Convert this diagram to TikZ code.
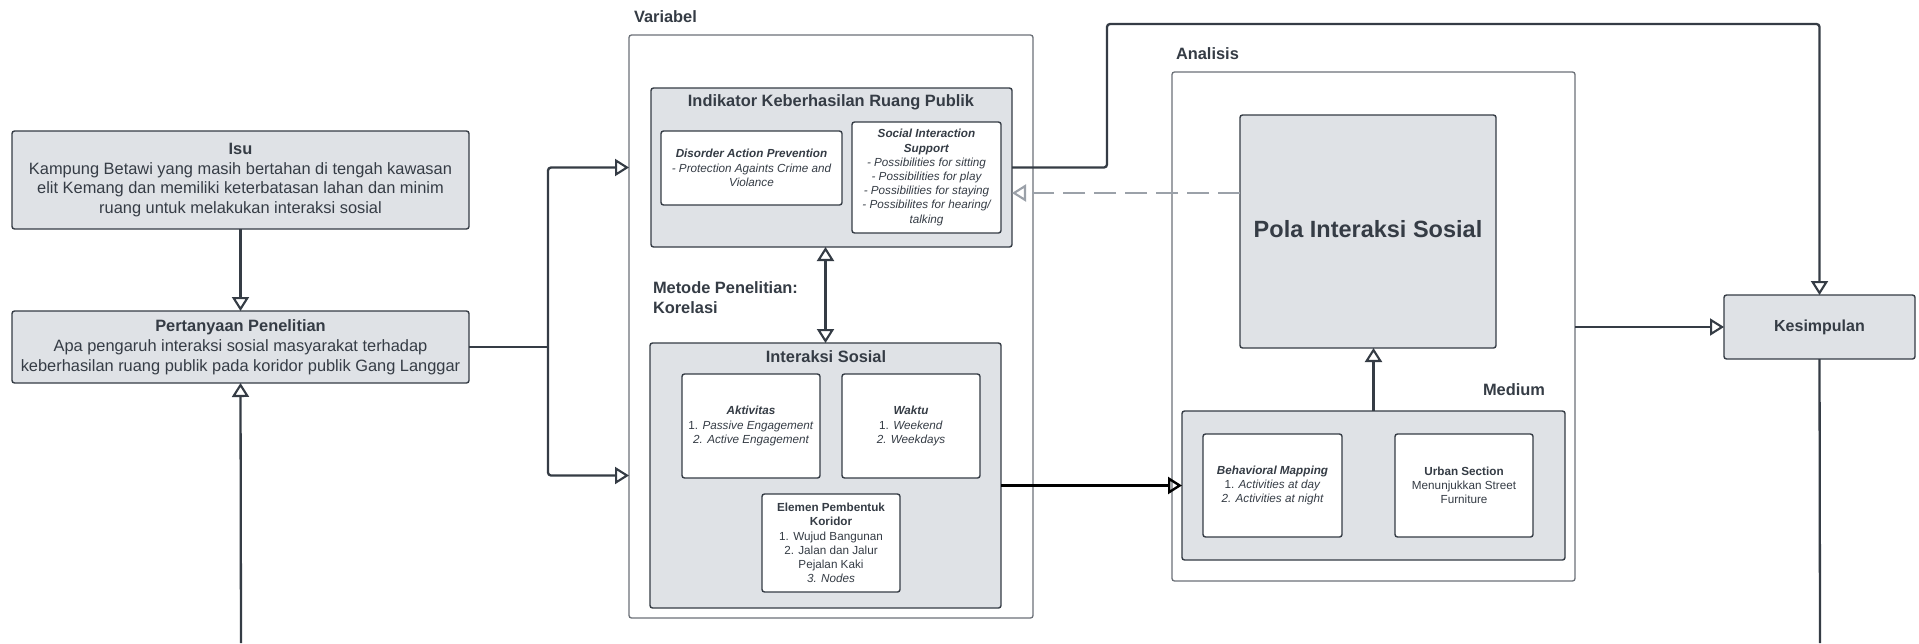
\documentclass[tikz,border=0pt]{standalone}
\usepackage{fontspec}
\setmainfont{Liberation Sans}
\usetikzlibrary{arrows.meta,calc}
\definecolor{ink}{HTML}{353C45}
\definecolor{boxfill}{HTML}{DFE2E6}
\definecolor{frame}{HTML}{6C7178}
\definecolor{dashgray}{HTML}{9BA1A9}
\begin{document}
\begin{tikzpicture}[x=1pt,y=-1pt,
  every node/.style={inner sep=0pt, outer sep=0pt, text=ink, align=center},
  graybox/.style={draw=ink, fill=boxfill, line width=1.4pt, rounded corners=2.5pt, anchor=north west},
  whitebox/.style={draw=ink, fill=white, line width=1.4pt, rounded corners=2.5pt, anchor=north west},
  container/.style={draw=frame, fill=white, line width=1.3pt, rounded corners=2.5pt, anchor=north west},
  big/.style={font=\fontsize{16.4}{19.8}\selectfont},
  head/.style={font=\fontsize{16.4}{20}\selectfont\bfseries},
  small/.style={font=\fontsize{11.7}{14.2}\selectfont},
  conn/.style={draw=ink, line width=2.3pt},
  tip/.style={Triangle[open, length=14pt, width=17pt, line width=2.1pt]},
  arr/.style={conn, -{Triangle[open, length=14pt, width=17pt, line width=2.1pt]}},
  dblarr/.style={conn, {Triangle[open, length=14pt, width=17pt, line width=2.1pt]}-{Triangle[open, length=14pt, width=17pt, line width=2.1pt]}},
  arrblack/.style={draw=black, line width=2.6pt, -{Triangle[open, length=14pt, width=17pt, line width=2.4pt]}},
  dasharr/.style={draw=dashgray, line width=2.2pt, dash pattern=on 22pt off 9pt, -{Triangle[open, length=14pt, width=17pt, line width=2.1pt]}}
]
\fill[white] (0,0) rectangle (1919,643);
\useasboundingbox (0,0) rectangle (1919,643);

% left column
\node[graybox, big, minimum width=457pt, minimum height=98pt] (isu) at (12,131)
  {\textbf{Isu}\\Kampung Betawi yang masih bertahan di tengah kawasan\\elit Kemang dan memiliki keterbatasan lahan dan minim\\ruang untuk melakukan interaksi sosial};
\node[graybox, big, minimum width=457pt, minimum height=72pt] (pert) at (12,311)
  {\textbf{Pertanyaan Penelitian}\\Apa pengaruh interaksi sosial masyarakat terhadap\\keberhasilan ruang publik pada koridor publik Gang Langgar};

% Variabel
\node[head, anchor=west] (varlbl) at (634,17) {Variabel};
\node[container, minimum width=404pt, minimum height=583pt] (var) at (629,35) {};
\node[graybox, minimum width=361pt, minimum height=159pt] (ind) at (651,88) {};
\node[head] (indt) at (831,102) {Indikator Keberhasilan Ruang Publik};
\node[whitebox, small, minimum width=181pt, minimum height=74pt] (dis) at (661,131)
  {\textbf{\itshape Disorder Action Prevention}\\\itshape - Protection Againts Crime and\\\itshape Violance};
\node[whitebox, small, minimum width=149pt, minimum height=111pt] (soc) at (852,122)
  {\textbf{\itshape Social Interaction}\\\textbf{\itshape Support}\\\itshape - Possibilities for sitting\\\itshape - Possibilities for play\\\itshape - Possibilities for staying\\\itshape - Possibilites for hearing/\\\itshape talking};
\node[head, anchor=west, align=left] (metode) at (653,298) {Metode Penelitian:\\Korelasi};
\node[graybox, minimum width=351pt, minimum height=265pt] (inter) at (650,343) {};
\node[head] (intert) at (826,357) {Interaksi Sosial};
\node[whitebox, small, minimum width=138pt, minimum height=104pt] (akt) at (682,374)
  {\textbf{\itshape Aktivitas}\\1. \textit{Passive Engagement}\\\itshape 2. Active Engagement};
\node[whitebox, small, minimum width=138pt, minimum height=104pt] (wak) at (842,374)
  {\textbf{\itshape Waktu}\\1. \textit{Weekend}\\\itshape 2. Weekdays};
\node[whitebox, small, minimum width=138pt, minimum height=98pt] (ele) at (762,494)
  {\textbf{Elemen Pembentuk}\\\textbf{Koridor}\\1. Wujud Bangunan\\2. Jalan dan Jalur\\Pejalan Kaki\\\itshape 3. Nodes};

% Analisis
\node[head, anchor=west] (analbl) at (1176,54) {Analisis};
\node[container, minimum width=403pt, minimum height=509pt] (ana) at (1172,72) {};
\node[graybox, font=\fontsize{23.5}{28}\selectfont\bfseries, minimum width=256pt, minimum height=233pt] (pola) at (1240,115) {\raisebox{6pt}{Pola Interaksi Sosial}};
\node[head, anchor=east] (medlbl) at (1545,390) {Medium};
\node[graybox, minimum width=383pt, minimum height=149pt] (med) at (1182,411) {};
\node[whitebox, small, minimum width=139pt, minimum height=103pt] (beh) at (1203,434)
  {\textbf{\itshape Behavioral Mapping}\\1. \textit{Activities at day}\\\itshape 2. Activities at night};
\node[whitebox, small, minimum width=138pt, minimum height=103pt] (urb) at (1395,434)
  {\textbf{Urban Section}\\Menunjukkan Street\\Furniture};

% Kesimpulan
\node[graybox, font=\fontsize{16}{19.6}\selectfont\bfseries, minimum width=191pt, minimum height=64pt] (kes) at (1724,295) {Kesimpulan};

% free ends
\coordinate (b1) at (241,643);
\coordinate (b2) at (1820,643);
\coordinate (tr) at (1107,24);
\coordinate (j) at (548,0);

% connectors
\draw[arr] (isu) -- (pert);
\draw[arr] (b1) -- (pert.south);
\draw[conn] (pert.east) -- (pert.east -| j);
\draw[arr, rounded corners=3pt] (pert.east -| j) |- (var.west |- ind);
\draw[arr, rounded corners=3pt] (pert.east -| j) |- (var.west |- inter);
\draw[dblarr] (inter.north) -- (inter.north |- ind.south);
\draw[arrblack] (inter.east |- med) -- (med.west);
\draw[dasharr] (pola.west |- 0,193) -- (ind.east |- 0,193);
\draw[arr] (med.north) -- (med.north |- pola.south);
\draw[arr] (ana.east |- kes) -- (kes.west);
\draw[arr, rounded corners=3pt] (ind.east) -| (tr) -| (kes.north);
\draw[conn] (kes.south) -- (b2);
\end{tikzpicture}
\end{document}
